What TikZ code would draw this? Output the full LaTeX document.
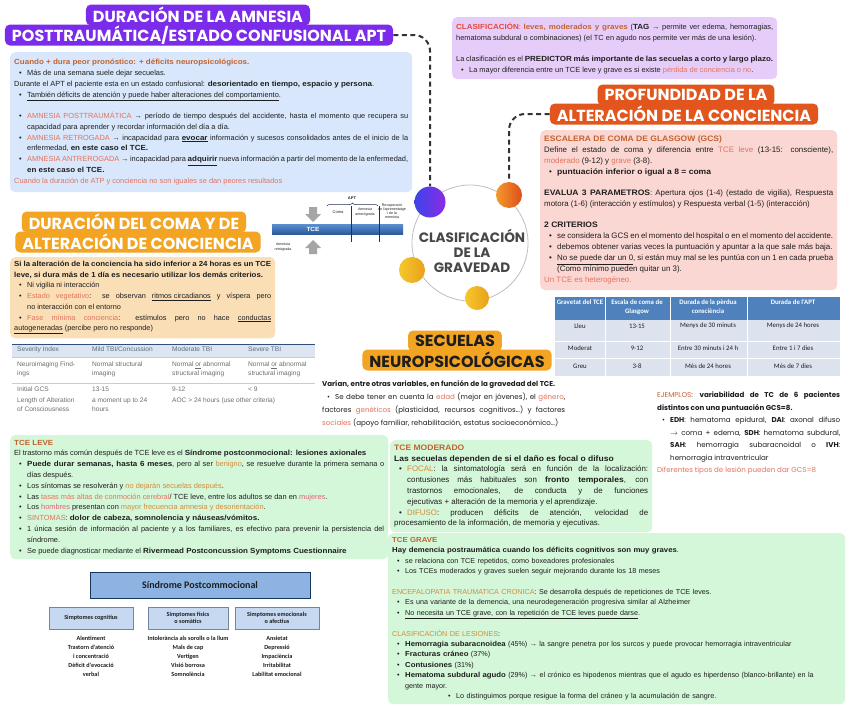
\documentclass[tikz,border=0pt]{standalone}
\usepackage{fontspec}
\setmainfont{Liberation Sans}[BoldFeatures={FakeStretch=1.08}]
\newfontfamily\headfont{Poppins}
\newfontfamily\geofont{Poppins}
\newfontfamily\calfont{Carlito}
\usetikzlibrary{positioning}
\usetikzlibrary{decorations.pathreplacing}

\definecolor{aptviolet}{HTML}{7B2BEA}
\definecolor{boxblue}{HTML}{D8E7FB}
\definecolor{boxlilac}{HTML}{E6CDF9}
\definecolor{profred}{HTML}{E2561E}
\definecolor{boxpink}{HTML}{FBD7D3}
\definecolor{comagold}{HTML}{F2A422}
\definecolor{boxtan}{HTML}{F9DEB6}
\definecolor{boxmint}{HTML}{D4F6D9}
\definecolor{txtblack}{HTML}{1E1E1E}
\definecolor{txtbrown}{HTML}{C4622D}
\definecolor{txtsalmon}{HTML}{E3735C}
\definecolor{txtred}{HTML}{E2483A}
\definecolor{txtgold}{HTML}{D58B3A}
\definecolor{txtpink}{HTML}{DC6478}
\definecolor{conngray}{HTML}{333333}
\definecolor{hubgray}{HTML}{474747}
\definecolor{dotPa}{HTML}{3C45E9}
\definecolor{dotPb}{HTML}{8B2BE4}
\definecolor{dotOa}{HTML}{F59A2A}
\definecolor{dotOb}{HTML}{DC4E1C}
\definecolor{dotYa}{HTML}{F5C82A}
\definecolor{dotYb}{HTML}{E9A01C}
\definecolor{barA}{HTML}{5B8FD0}
\definecolor{barB}{HTML}{2D5B9A}
\definecolor{arrgray}{HTML}{A5A5A5}
\definecolor{aptnavy}{HTML}{1F2F55}
\definecolor{sevhead}{HTML}{DDE6F0}
\definecolor{sevnavy}{HTML}{2F4F7A}
\definecolor{sevslate}{HTML}{5A6C86}
\definecolor{sevgray}{HTML}{6E6E6E}
\definecolor{tblblue}{HTML}{4F81BD}
\definecolor{tblcell}{HTML}{DCE3EE}
\definecolor{synblue}{HTML}{8DB3E2}
\definecolor{synsubblue}{HTML}{C6D9F1}
\definecolor{synnavy}{HTML}{17365D}

\newcommand{\nohyph}{\hyphenpenalty=10000\exhyphenpenalty=10000\tolerance=3000}
\newcommand{\txtsz}{\fontsize{7.4}{10.9}\selectfont\nohyph}
\newcommand{\bul}{\par\hangindent=13pt\hangafter=1\noindent\hspace*{5pt}\makebox[8pt][l]{\textbullet}}
\newcommand{\gap}{\par\vspace{10pt}}
\newcommand{\tsal}[1]{\textcolor{txtsalmon}{#1}}
\newcommand{\tgold}[1]{\textcolor{txtgold}{#1}}
\newcommand{\tpink}[1]{\textcolor{txtpink}{#1}}
\newcommand{\tbrown}[1]{\textcolor{txtbrown}{#1}}

\begin{document}
\begin{tikzpicture}[x=1pt,y=1pt,yscale=-1,
  headbox/.style={rounded corners=5pt, inner xsep=7pt, inner ysep=0pt, minimum height=21pt, text=white, font=\headfont\bfseries\fontsize{16}{17}\selectfont},
  txtbox/.style={anchor=north west, rounded corners=5pt, inner xsep=4pt, inner ysep=4pt, align=justify, text=txtblack, font=\txtsz},
  conn/.style={draw=conngray, line width=2pt, dash pattern=on 5pt off 3.5pt, rounded corners=16pt},
  dotnode/.style={circle, inner sep=0pt, shading=axis, shading angle=60},
  sevtxt/.style={anchor=north west, inner sep=0pt, align=left, text=sevgray, font=\fontsize{6.6}{8.8}\selectfont},
  cattxt/.style={inner sep=0pt, align=center, text=txtblack, font=\calfont\fontsize{6.8}{8.2}\selectfont},
  tinytxt/.style={inner sep=0pt, align=center, text=txtblack, font=\fontsize{3.6}{4.2}\selectfont},
  synsub/.style={draw=synnavy!60, fill=synsubblue, minimum width=84pt, minimum height=22pt, inner sep=1pt, align=center, text=txtblack, font=\calfont\bfseries\fontsize{6.2}{7.6}\selectfont},
  synlist/.style={anchor=north, inner sep=0pt, align=center, text=txtblack, font=\calfont\bfseries\fontsize{6.2}{9}\selectfont}]

\fill[white] (0,0) rectangle (848,704);
\useasboundingbox (0,0) rectangle (848,704);

%%%%%% DURACION DE LA AMNESIA
% Heading
\node[headbox, fill=aptviolet] (aptA) at (198,15) {DURACIÓN DE LA AMNESIA};
\node[headbox, fill=aptviolet] (aptB) at (199,35) {POSTTRAUMÁTICA/ESTADO CONFUSIONAL APT};
% Text Node
\node[txtbox, fill=boxblue, text width=394pt, minimum height=140pt] (apttxt) at (10,52) {%
{\bfseries\color{txtbrown}Cuando + dura peor pronóstico: + déficits neuropsicológicos.}
\bul Más de una semana suele dejar secuelas.
\par Durante el APT el paciente esta en un estado confusional: \textbf{desorientado en tiempo, espacio y persona}.
\bul \underline{También déficits de atención y puede haber alteraciones del comportamiento}.
\gap
\bul \tsal{AMNESIA POSTTRAUMÁTICA} → período de tiempo después del accidente, hasta el momento que recupera su capacidad para aprender y recordar información del día a día.
\bul \tsal{AMNESIA RETROGADA} → incapacidad para \textbf{\underline{evocar}} información y sucesos consolidados antes de el inicio de la enfermedad, \textbf{en este caso el TCE.}
\bul \tsal{AMNESIA ANTREROGADA} → incapacidad para \textbf{\underline{adquirir}} nueva información a partir del momento de la enfermedad, \textbf{en este caso el TCE.}
\par \tsal{Cuando la duración de ATP y conciencia no son iguales se dan peores resultados}};

%%%%%% CLASIFICACION (top right)
% Text Node
\node[txtbox, fill=boxlilac, text width=317pt, minimum height=62pt] (clastxt) at (452,17) {%
{\bfseries\color{txtred}CLASIFICACIÓN}{\color{txtred}:} {\bfseries\color{txtbrown}leves, moderados y graves} (\textbf{TAG} → permite ver edema, hemorragias, hematoma subdural o combinaciones) (el TC en agudo nos permite ver más de una lesión).
\gap
La clasificación es el \textbf{PREDICTOR más importante de las secuelas a corto y largo plazo.}
\bul La mayor diferencia entre un TCE leve y grave es si existe \tsal{pérdida de conciencia o no}.};

%%%%%% PROFUNDIDAD
% Heading
\node[headbox, fill=profred] (profA) at (686,95) {PROFUNDIDAD DE LA};
\node[headbox, fill=profred] (profB) at (684,114) {ALTERACIÓN DE LA CONCIENCIA};
% Text Node
\node[txtbox, fill=boxpink, text width=289pt, minimum height=160pt, font=\fontsize{7.9}{11}\selectfont\nohyph] (gcstxt) at (540,130) {%
{\bfseries\color{txtbrown}ESCALERA DE COMA DE GLASGOW (GCS)}
\par Define el estado de coma y diferencia entre \tsal{TCE leve} (13-15: consciente), \tsal{moderado} (9-12) y \tsal{grave} (3-8).
\bul \textbf{puntuación inferior o igual a 8 = coma}
\gap
\textbf{EVALUA 3 PARAMETROS}: Apertura ojos (1-4) (estado de vigilia), Respuesta motora (1-6) (interacción y estímulos) y Respuesta verbal (1-5) (interacción)
\gap
\textbf{2 CRITERIOS}
\bul se considera la GCS en el momento del hospital o en el momento del accidente.
\bul debemos obtener varias veces la puntuación y apuntar a la que sale más baja.
\bul \underline{No se puede dar un 0}, si están muy mal se les puntúa con un 1 en cada prueba (Como mínimo pueden quitar un 3).
\par \tsal{Un TCE es heterogéneo.}};

%%%%%% CLASIFICACION DE LA GRAVEDAD (hub)
\node[circle, draw=black!25, line width=0.8pt, minimum size=116pt] (hub) at (470,243) {};
\node[align=center, text=hubgray, font=\headfont\bfseries\fontsize{13.6}{15}\selectfont] (hubtxt) at (472,251) {CLASIFICACIÓN\\DE LA\\GRAVEDAD};
\node[dotnode, minimum size=31pt, left color=dotPa, right color=dotPb] (dotP) at (430,202) {};
\node[dotnode, minimum size=26pt, left color=dotOa, right color=dotOb] (dotO) at (509,195) {};
\node[dotnode, minimum size=26pt, left color=dotYa, right color=dotYb] (dotY) at (412,270) {};
\node[dotnode, minimum size=24pt, left color=dotYa, right color=dotYb] (dotS) at (477,298) {};
% Connectors
\draw[conn] (aptB.east) -| (dotP.north);
\draw[conn] (profB.west) -| (dotO.north);

%%%%%% APT scheme
\fill[arrgray] (309,207) -- (317,207) -- (317,214) -- (321,214) -- (313,222) -- (305,214) -- (309,214) -- cycle;
\fill[arrgray] (313,240) -- (321,248) -- (317,248) -- (317,254) -- (309,254) -- (309,248) -- (305,248) -- cycle;
\shade[top color=barA, bottom color=barB] (272,224) rectangle (403,234);
\node[inner sep=0pt, text=white, font=\bfseries\fontsize{6}{6}\selectfont] (tcebar) at (313,229) {TCE};
\draw[aptnavy, line width=0.6pt] (351,206) -- (351,242);
\draw[aptnavy, line width=0.6pt] (379,206) -- (379,242);
\draw[aptnavy, line width=0.5pt, decorate, decoration={brace, amplitude=3pt}] (327,206) -- (378,206);
\node[tinytxt, font=\bfseries\fontsize{3.8}{4.2}\selectfont] (aptlbl) at (352,198) {APT};
\node[tinytxt, font=\fontsize{4}{4.4}\selectfont] (comalbl) at (338,212) {Coma};
\node[tinytxt] (anterlbl) at (365,212) {Amnesia\\anterógrada};
\node[tinytxt] (recuplbl) at (392,211) {Recuperació\\de l'aprenentatge\\i de la\\memòria};
\node[tinytxt] (retrolbl) at (283,247) {Amnèsia\\retrògrada};

%%%%%% DURACION DEL COMA
% Heading
\node[headbox, fill=comagold] (comaA) at (134,222) {DURACIÓN DEL COMA Y DE};
\node[headbox, fill=comagold] (comaB) at (138,242) {ALTERACIÓN DE CONCIENCIA};
% Text Node
\node[txtbox, fill=boxtan, text width=257pt, minimum height=80pt, font=\fontsize{7.3}{10.7}\selectfont\nohyph] (comatxt) at (10,257) {%
\textbf{Si la alteración de la conciencia ha sido inferior a 24 horas es un TCE\linebreak leve, si dura más de 1 día es necesario utilizar los demás criterios.}
\bul Ni vigilia ni interacción
\bul \tsal{Estado vegetativo}: se observan \underline{ritmos circadianos} y víspera pero\linebreak no interacción con el entorno
\bul \tsal{Fase mínima conciencia}: estímulos pero no hace \underline{conductas}\linebreak \underline{autogeneradas} (percibe pero no responde)};

%%%%%% Severity table
\fill[sevhead] (12,344) rectangle (315,357);
\draw[sevnavy, line width=1pt] (12,344) -- (315,344);
\draw[black!20, line width=0.5pt] (12,357) -- (315,357);
\draw[black!20, line width=0.5pt] (12,383) -- (315,383);
\node[sevtxt, text=sevslate] (sevh1) at (17,347) {Severity Index};
\node[sevtxt, text=sevslate] (sevh2) at (92,347) {Mild TBI/Concussion};
\node[sevtxt, text=sevslate] (sevh3) at (172,347) {Moderate TBI};
\node[sevtxt, text=sevslate] (sevh4) at (248,347) {Severe TBI};
\node[sevtxt] (seva1) at (17,362) {Neuroimaging Find-\\ings};
\node[sevtxt] (seva2) at (92,362) {Normal structural\\imaging};
\node[sevtxt] (seva3) at (172,362) {Normal \underline{or} abnormal\\structural imaging};
\node[sevtxt] (seva4) at (248,362) {Normal \underline{or} abnormal\\structural imaging};
\node[sevtxt] (sevb1) at (17,387) {Initial GCS};
\node[sevtxt] (sevb2) at (92,387) {13-15};
\node[sevtxt] (sevb3) at (172,387) {9-12};
\node[sevtxt] (sevb4) at (248,387) {< 9};
\node[sevtxt] (sevc1) at (17,398) {Length of Alteration\\of Consciousness};
\node[sevtxt] (sevc2) at (92,398) {a moment up to 24\\hours};
\node[sevtxt] (sevc3) at (172,398) {AOC > 24 hours (use other criteria)};

%%%%%% SECUELAS
% Heading
\node[headbox, fill=comagold, text=txtblack] (secA) at (455,341) {SECUELAS};
\node[headbox, fill=comagold, text=txtblack] (secB) at (457,360) {NEUROPSICOLÓGICAS};
% Text Node
\node[txtbox, text width=243pt, font=\geofont\fontsize{7.1}{13}\selectfont\nohyph] (sectxt) at (318,376) {%
\textbf{Varían, entre otras variables, en función de la gravedad del TCE.}
\bul Se debe tener en cuenta la \tsal{edad} (mejor en jóvenes), el \tsal{género}, factores \tsal{genéticos} (plasticidad, recursos cognitivos…) y factores \tsal{sociales} (apoyo familiar, rehabilitación, estatus socioeconómico…)};

%%%%%% Catalan table
\fill[tblblue] (555,297) rectangle (840,320);
\fill[tblcell] (555,320) rectangle (840,376);
\draw[white, line width=1pt] (555,341) -- (840,341);
\draw[white, line width=1pt] (555,358) -- (840,358);
\draw[white, line width=0.8pt] (605,297) -- (605,376);
\draw[white, line width=0.8pt] (670,297) -- (670,376);
\draw[white, line width=0.8pt] (747,297) -- (747,376);
\node[cattxt, text=white, font=\calfont\bfseries\fontsize{6.8}{8.2}\selectfont, anchor=north] (cath1) at (580,300) {Gravetat del TCE};
\node[cattxt, text=white, font=\calfont\bfseries\fontsize{6.8}{8.2}\selectfont, anchor=north] (cath2) at (637,300) {Escala de coma de\\Glasgow};
\node[cattxt, text=white, font=\calfont\bfseries\fontsize{6.8}{8.2}\selectfont, anchor=north] (cath3) at (708,300) {Durada de la pèrdua\\consciència};
\node[cattxt, text=white, font=\calfont\bfseries\fontsize{6.8}{8.2}\selectfont, anchor=north] (cath4) at (793,300) {Durada de l'APT};
\node[cattxt] (cata1) at (580,326) {Lleu};
\node[cattxt] (cata2) at (637,326) {13-15};
\node[cattxt] (cata3) at (708,326) {Menys de 30 minuts};
\node[cattxt] (cata4) at (793,326) {Menys de 24 hores};
\node[cattxt] (catb1) at (580,348) {Moderat};
\node[cattxt] (catb2) at (637,348) {9-12};
\node[cattxt] (catb3) at (708,348) {Entre 30 minuts i 24 h};
\node[cattxt] (catb4) at (793,348) {Entre 1 i 7 dies};
\node[cattxt] (catc1) at (580,366) {Greu};
\node[cattxt] (catc2) at (637,366) {3-8};
\node[cattxt] (catc3) at (708,366) {Més de 24 hores};
\node[cattxt] (catc4) at (793,366) {Més de 7 dies};

%%%%%% EJEMPLOS
% Text Node
\node[txtbox, text width=183pt, font=\geofont\fontsize{7.1}{12.5}\selectfont\nohyph] (ejtxt) at (653,388) {%
\tbrown{EJEMPLOS}: \textbf{variabilidad de TC de 6 pacientes distintos con una puntuación GCS=8.}
\bul \textbf{EDH}: hematoma epidural, \textbf{DAI}: axonal difuso\linebreak \ensuremath{\rightarrow} coma + edema, \textbf{SDH}: hematoma subdural,\linebreak \textbf{SAH}: hemorragia subaracnoidal o \textbf{IVH}:\linebreak hemorragia intraventricular
\par \tsal{Diferentes tipos de lesión pueden dar GCS=8}};

%%%%%% TCE LEVE
% Text Node
\node[txtbox, fill=boxmint, text width=370pt, minimum height=124pt, font=\fontsize{7.4}{10.8}\selectfont\nohyph] (levetxt) at (10,435) {%
{\bfseries\color{txtbrown}TCE LEVE}
\par El trastorno más común después de TCE leve es el \textbf{Síndrome postconmocional: lesiones axionales}
\bul \textbf{Puede durar semanas, hasta 6 meses}, pero al ser \tgold{benigno}, se resuelve durante la primera semana o días después.
\bul Los síntomas se resolverán y \tgold{no dejarán secuelas después}.
\bul Las \tsal{tasas más altas de conmoción cerebral}/ TCE leve, entre los adultos se dan en \tpink{mujeres}.
\bul Los \tpink{hombres} presentan con \tgold{mayor frecuencia amnesia y desorientación}.
\bul \tsal{SINTOMAS}: \textbf{dolor de cabeza, somnolencia y náuseas/vómitos.}
\bul 1 única sesión de información al paciente y a los familiares, es efectivo para prevenir la persistencia del síndrome.
\bul Se puede diagnosticar mediante el \textbf{Rivermead Postconcussion Symptoms Cuestionnaire}};

%%%%%% TCE MODERADO
% Text Node
\node[txtbox, fill=boxmint, text width=254pt, minimum height=92pt, font=\fontsize{7.9}{10.8}\selectfont\nohyph] (modtxt) at (390,440) {%
{\bfseries\color{txtbrown}TCE MODERADO}
\par \textbf{Las secuelas dependen de si el daño es focal o difuso}
\bul \tgold{FOCAL}: la sintomatología será en función de la localización:\linebreak contusiones más habituales son \textbf{fronto temporales}, con\linebreak trastornos emocionales, de conducta y de funciones\linebreak ejecutivas + alteración de la memoria y el aprendizaje.
\bul \tgold{DIFUSO}: producen déficits de atención, velocidad de\linebreak procesamiento de la información, de memoria y ejecutivas.};

%%%%%% TCE GRAVE
% Text Node
\node[txtbox, fill=boxmint, align=left, inner ysep=3pt, text width=449pt, minimum height=171pt, font=\fontsize{7.2}{10.4}\selectfont\nohyph] (gravtxt) at (388,533) {%
{\bfseries\color{txtbrown}TCE GRAVE}
\par \textbf{Hay demencia postraumática cuando los déficits cognitivos son muy graves}.
\bul se relaciona con TCE repetidos, como boxeadores profesionales
\bul Los TCEs moderados y graves suelen seguir mejorando durante los 18 meses
\par\vspace{10.4pt}
\tgold{ENCEFALOPATIA TRAUMATICA CRONICA}: Se desarrolla después de repeticiones de TCE leves.
\bul Es una variante de la demencia, una neurodegeneración progresiva similar al Alzheimer
\bul \underline{No necesita un TCE grave, con la repetición de TCE leves puede darse}.
\par\vspace{10.4pt}
\tgold{CLASIFICACIÓN DE LESIONES}:
\bul \textbf{Hemorragia subaracnoidea} (45\%) → la sangre penetra por los surcos y puede provocar hemorragia intraventricular
\bul \textbf{Fracturas cráneo} (37\%)
\bul \textbf{Contusiones} (31\%)
\bul \textbf{Hematoma subdural agudo} (29\%) → el crónico es hipodenos mientras que el agudo es hiperdenso (blanco-brillante) en la\linebreak gente mayor.
\par\noindent\hspace*{56pt}\makebox[8pt][l]{\textbullet}Lo distinguimos porque resigue la forma del cráneo y la acumulación de sangre.};

%%%%%% Sindrome postcommocional
\node[draw=synnavy, fill=synblue, minimum width=220pt, minimum height=26pt, text=txtblack, font=\calfont\bfseries\fontsize{10}{12}\selectfont] (synhead) at (200,585) {Síndrome Postcommocional};
\node[synsub] (cogn) at (91,618) {Simptomes cognitius};
\node[synsub, minimum width=80pt] (fisi) at (188,618) {Simptomes físics\\o somàtics};
\node[synsub] (emoc) at (277,618) {Simptomes emocionals\\o afectius};
\node[synlist] (cognl) at (91,636) {Alentiment\\Trastorn d'atenció\\i concentració\\Dèficit d'evocació\\verbal};
\node[synlist] (fisil) at (188,636) {Intolerància als sorolls o la llum\\Mals de cap\\Vertigen\\Visió borrosa\\Somnolència};
\node[synlist] (emocl) at (277,636) {Ansietat\\Depressió\\Impaciència\\Irritabilitat\\Labilitat emocional};

\end{tikzpicture}
\end{document}
